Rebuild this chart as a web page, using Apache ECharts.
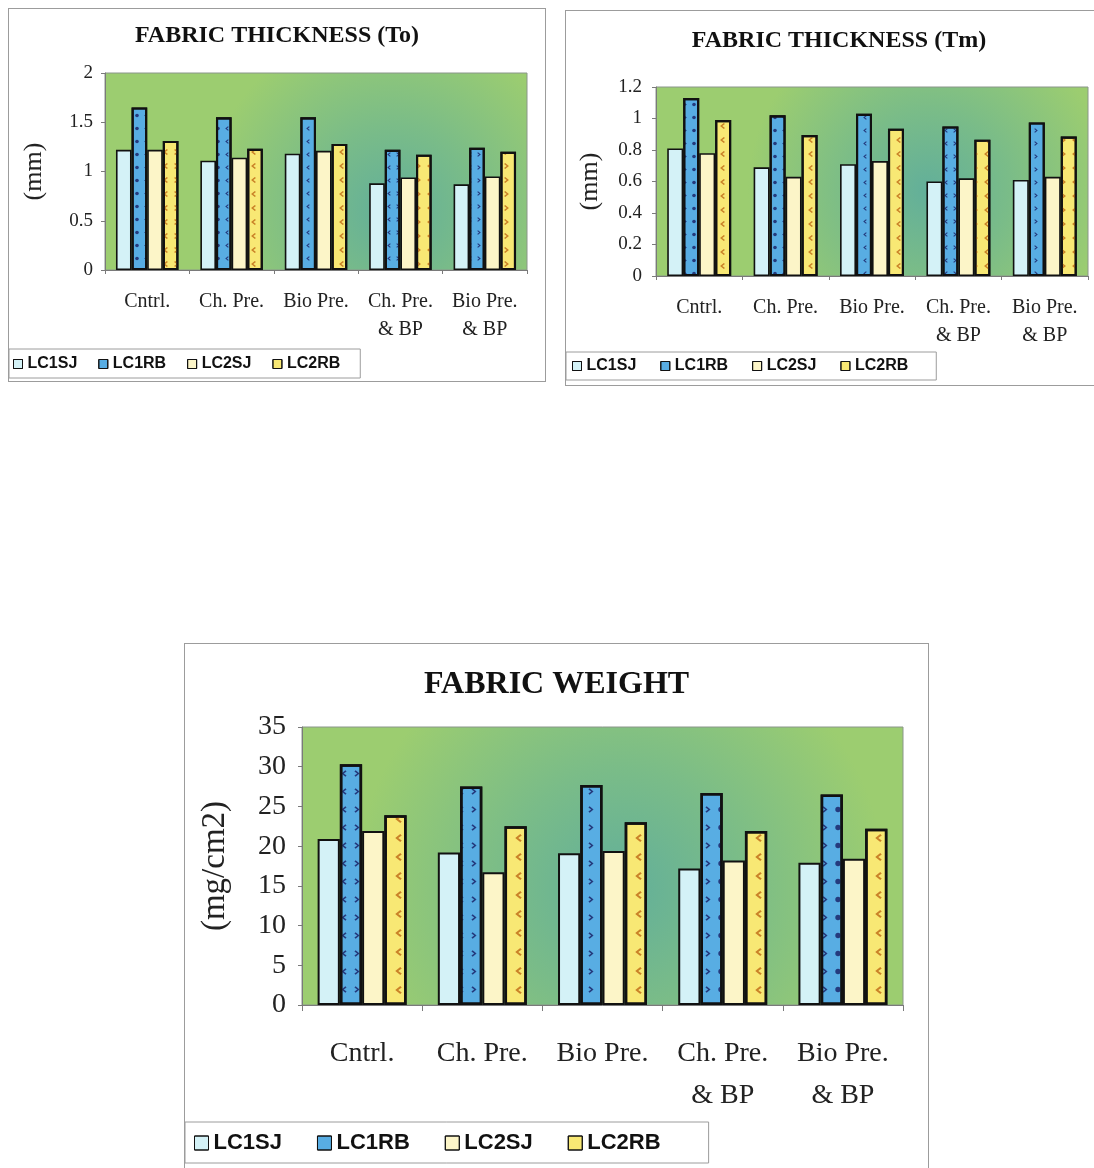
<!DOCTYPE html>
<html>
<head>
<meta charset="utf-8">
<title>Fabric thickness and weight</title>
<script src="https://cdn.jsdelivr.net/npm/echarts@6/dist/echarts.min.js"></script>
<style>
  html, body { margin: 0; padding: 0; background: #ffffff; overflow: hidden; }
  body { width: 1094px; height: 1168px; position: relative; }
  .frame { position: absolute; border: 1px solid #9c9c9c; box-sizing: content-box; }
  #chartTo { left: 8px;   top: 8px;   width: 536px; height: 372px; }
  #chartTm { left: 565px; top: 10px;  width: 546px; height: 374px; }
  #chartWt { left: 184px; top: 643px; width: 743px; height: 540px; }
</style>
</head>
<body>
<div id="chartTo" class="frame"></div>
<div id="chartTm" class="frame"></div>
<div id="chartWt" class="frame"></div>
<script>
// Treatments on the category axis
const categories = ['Cntrl.', 'Ch. Pre.', 'Bio Pre.', 'Ch. Pre.\n& BP', 'Bio Pre.\n& BP'];
const seriesNames = ['LC1SJ', 'LC1RB', 'LC2SJ', 'LC2RB'];

// Fabric thickness To (mm)
const toLC1SJ = [1.22, 1.11, 1.18, 0.88, 0.87];
const toLC1RB = [1.65, 1.55, 1.55, 1.22, 1.24];
const toLC2SJ = [1.22, 1.14, 1.21, 0.94, 0.95];
const toLC2RB = [1.31, 1.23, 1.28, 1.17, 1.20];
const toTicks = [0, 0.5, 1, 1.5, 2];

// Fabric thickness Tm (mm)
const tmLC1SJ = [0.81, 0.69, 0.71, 0.60, 0.61];
const tmLC1RB = [1.13, 1.02, 1.03, 0.95, 0.975];
const tmLC2SJ = [0.78, 0.63, 0.73, 0.62, 0.63];
const tmLC2RB = [0.99, 0.895, 0.935, 0.865, 0.885];
const tmTicks = [0, 0.2, 0.4, 0.6, 0.8, 1, 1.2];

// Fabric weight (mg/cm2)
const wtLC1SJ = [20.9, 19.2, 19.1, 17.2, 17.9];
const wtLC1RB = [30.3, 27.5, 27.7, 26.7, 26.5];
const wtLC2SJ = [21.9, 16.7, 19.4, 18.2, 18.4];
const wtLC2RB = [23.9, 22.5, 23.0, 21.9, 22.2];
const wtTicks = [0, 5, 10, 15, 20, 25, 30, 35];

const SERIF = "'Liberation Serif', 'Times New Roman', serif";
const SANS = "'Liberation Sans', Arial, sans-serif";

const chevronLeft = 'path://M5,0 L0,4 L5,8 L6.5,6.6 L3,4 L6.5,1.4 Z';
const chevronRight = 'path://M1.5,0 L6.5,4 L1.5,8 L0,6.6 L3.5,4 L0,1.4 Z';

function barStyles(s, border) {
  const r = v => Math.round(v * s);
  return [
    { color: '#d4f2f7', borderColor: '#111', borderWidth: border },
    {
      color: '#58ade3', borderColor: '#111', borderWidth: border + 0.5,
      decal: {
        symbol: [chevronLeft, chevronRight, 'circle'],
        symbolSize: 0.9,
        color: 'rgba(24,30,100,0.8)',
        dashArrayX: [r(4), r(5)],
        dashArrayY: [r(5), r(8)]
      }
    },
    { color: '#fcf5c8', borderColor: '#111', borderWidth: border },
    {
      color: '#f8e874', borderColor: '#111', borderWidth: border + 0.5,
      decal: {
        symbol: [chevronLeft, chevronRight],
        symbolSize: 1,
        color: 'rgba(196,118,30,0.9)',
        dashArrayX: [r(5), r(6)],
        dashArrayY: [r(6), r(8)]
      }
    }
  ];
}

function plotBackground(cx, cy) {
  return {
    type: 'radial', x: cx, y: cy, r: 0.95,
    colorStops: [
      { offset: 0, color: '#62af9a' },
      { offset: 0.45, color: '#7abc88' },
      { offset: 1, color: '#9ccd70' }
    ]
  };
}

function buildOption(c) {
  const styles = barStyles(c.decalScale, c.border);
  return {
    animation: false,
    title: {
      text: c.title, left: 'center', top: c.titleTop,
      textStyle: { fontFamily: SERIF, fontWeight: 'bold', fontSize: c.titleSize, color: '#111' }
    },
    legend: {
      data: seriesNames,
      left: 0, top: c.legendTop,
      orient: 'horizontal',
      padding: c.legendPadding,
      itemGap: c.legendGap,
      itemWidth: c.iconSize, itemHeight: c.iconSize,
      borderColor: '#9c9c9c', borderWidth: 1,
      icon: 'rect',
      itemStyle: { borderColor: '#111', borderWidth: 1, decal: { symbol: 'none' } },
      textStyle: { fontFamily: SANS, fontWeight: 'bold', fontSize: c.legendSize, color: '#111' }
    },
    grid: {
      left: c.grid[0], top: c.grid[1], right: c.grid[2], height: c.grid[3],
      show: true, borderColor: '#8a968a', borderWidth: 1,
      backgroundColor: plotBackground(c.bg[0], c.bg[1])
    },
    xAxis: {
      type: 'category',
      data: categories,
      axisLine: { lineStyle: { color: '#7a7a7a', width: 1 } },
      axisTick: { show: true, length: c.tickLen, lineStyle: { color: '#7a7a7a' } },
      axisLabel: {
        interval: 0, margin: c.xMargin, lineHeight: c.xLineHeight,
        fontFamily: SERIF, fontSize: c.xSize, color: '#222'
      }
    },
    yAxis: {
      type: 'value',
      min: c.ticks[0], max: c.ticks[c.ticks.length - 1],
      interval: c.ticks[1] - c.ticks[0],
      name: c.yName, nameLocation: 'middle', nameRotate: 90, nameGap: c.nameGap,
      nameTextStyle: { fontFamily: SERIF, fontSize: c.nameSize, color: '#222' },
      axisLine: { show: true, lineStyle: { color: '#7a7a7a', width: 1 } },
      axisTick: { show: true, length: 4, lineStyle: { color: '#7a7a7a' } },
      splitLine: { show: false },
      axisLabel: { margin: c.yMargin, fontFamily: SERIF, fontSize: c.ySize, color: '#222' }
    },
    series: seriesNames.map((name, i) => ({
      name: name,
      type: 'bar',
      data: c.values[i],
      barGap: '0%',
      barCategoryGap: '26%',
      itemStyle: styles[i]
    }))
  };
}

const charts = [
  {
    id: 'chartTo', title: 'FABRIC THICKNESS (To)', titleTop: 10, titleSize: 24,
    grid: [96, 64, 18, 197], bg: [0.68, 0.7], ticks: toTicks,
    values: [toLC1SJ, toLC1RB, toLC2SJ, toLC2RB],
    yName: '(mm)', nameGap: 58, nameSize: 26,
    ySize: 19, yMargin: 12, xSize: 20, xMargin: 18, xLineHeight: 28, tickLen: 4,
    legendTop: 340, legendPadding: [7, 20, 6, 4], legendGap: 21, iconSize: 9,
    legendSize: 16, decalScale: 1, border: 1.6
  },
  {
    id: 'chartTm', title: 'FABRIC THICKNESS (Tm)', titleTop: 13, titleSize: 24,
    grid: [90, 76, 24, 189], bg: [0.63, 0.55], ticks: tmTicks,
    values: [tmLC1SJ, tmLC1RB, tmLC2SJ, tmLC2RB],
    yName: '(mm)', nameGap: 53, nameSize: 26,
    ySize: 19, yMargin: 14, xSize: 20, xMargin: 18, xLineHeight: 28, tickLen: 4,
    legendTop: 341, legendPadding: [6, 28, 6, 6], legendGap: 24, iconSize: 9,
    legendSize: 16, decalScale: 1, border: 1.6
  },
  {
    id: 'chartWt', title: 'FABRIC WEIGHT', titleTop: 20, titleSize: 32,
    grid: [117, 83, 25, 278], bg: [0.53, 0.58], ticks: wtTicks,
    values: [wtLC1SJ, wtLC1RB, wtLC2SJ, wtLC2RB],
    yName: '(mg/cm2)', nameGap: 70, nameSize: 33,
    ySize: 28, yMargin: 16, xSize: 28, xMargin: 28, xLineHeight: 42, tickLen: 6,
    legendTop: 478, legendPadding: [10, 48, 9, 9], legendGap: 35, iconSize: 14,
    legendSize: 22, decalScale: 1.4, border: 2
  }
];

charts.forEach(c => {
  const chart = echarts.init(document.getElementById(c.id), null, { renderer: 'canvas' });
  chart.setOption(buildOption(c));
});
</script>
</body>
</html>
